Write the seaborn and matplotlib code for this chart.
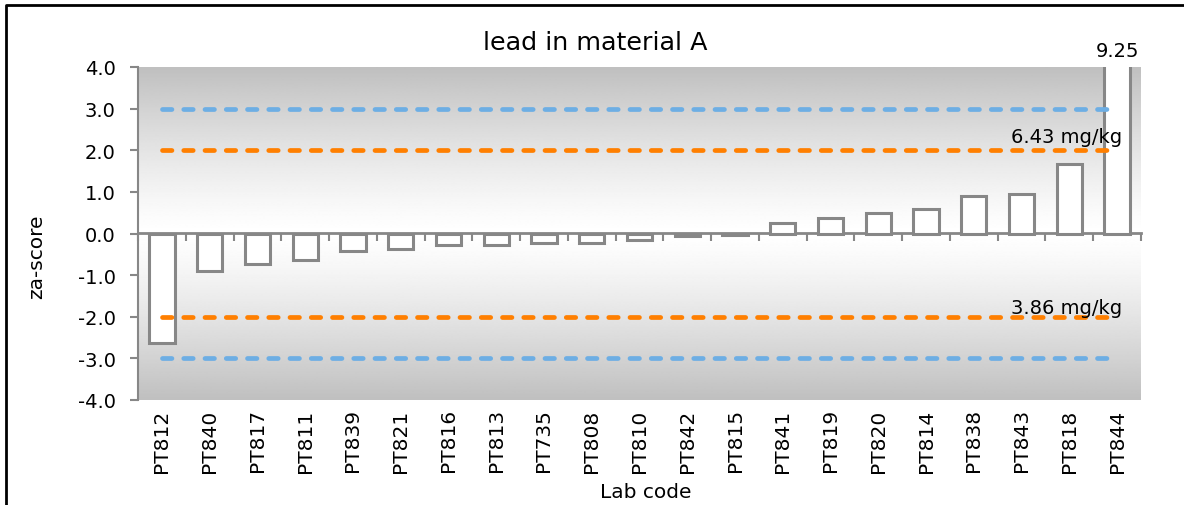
import numpy as np
import pandas as pd
import matplotlib
matplotlib.use('Agg')
import matplotlib.pyplot as plt
import seaborn as sns
from matplotlib.lines import Line2D

# ----- data -----
lab_codes = ['PT812', 'PT840', 'PT817', 'PT811', 'PT839', 'PT821', 'PT816',
             'PT813', 'PT735', 'PT808', 'PT810', 'PT842', 'PT815', 'PT841',
             'PT819', 'PT820', 'PT814', 'PT838', 'PT843', 'PT818', 'PT844']
za_scores = [-2.63, -0.89, -0.73, -0.64, -0.41, -0.38, -0.28,
             -0.28, -0.23, -0.23, -0.16, -0.07, -0.04, 0.25,
             0.37, 0.50, 0.60, 0.90, 0.94, 1.67, 9.25]
limit_action = [2, -2]      # orange
limit_warning = [3, -3]     # blue
upper_label = '6.43 mg/kg'
lower_label = '3.86 mg/kg'
y_ticks = [-4, -3, -2, -1, 0, 1, 2, 3, 4]

df = pd.DataFrame({'lab': lab_codes, 'za': za_scores})

sns.set_style('white')
plt.rcParams['font.family'] = ['DejaVu Sans']
plt.rcParams['text.color'] = 'black'
plt.rcParams['xtick.color'] = 'black'
plt.rcParams['ytick.color'] = 'black'

fig = plt.figure(figsize=(11.84, 5.06), dpi=100)
ax = fig.add_axes([138/1184, 1-401/506, (1141-138)/1184, (401-68)/506])

n = len(lab_codes)
ax.set_xlim(-0.5, n-0.5)
ax.set_ylim(-4, 4)

# background gradient (grey at top/bottom, white at zero)
yy = np.linspace(4, -4, 400)
shade = 1 - 0.25*(np.abs(yy)/4)**1.25
grad = np.repeat(shade[:, None], 2, axis=1)
ax.imshow(grad, cmap='gray', vmin=0, vmax=1, aspect='auto',
          extent=(-0.5, n-0.5, -4, 4), zorder=0, interpolation='bilinear')

sns.barplot(data=df, x='lab', y='za', color='white', edgecolor='#878787',
            linewidth=2.2, width=0.53, saturation=1, ax=ax, zorder=2)

for y in limit_warning:
    ax.hlines(y, 0, n-1, colors='#6DAEE4', linewidth=3.4, linestyles=(0, (2.0, 2.5)),
              capstyle='round', zorder=3)
for y in limit_action:
    ax.hlines(y, 0, n-1, colors='#FF7F00', linewidth=3.4, linestyles=(0, (2.0, 2.5)),
              capstyle='round', zorder=3)

ax.text(n-1, 4.18, f'{za_scores[-1]:.2f}', ha='center', va='bottom', fontsize=14, clip_on=False)
ax.text(n-0.9, 2.32, upper_label, ha='right', va='center', fontsize=14, zorder=4)
ax.text(n-0.9, -1.77, lower_label, ha='right', va='center', fontsize=14, zorder=4)

# axes styling
for s in ['top', 'right', 'bottom']:
    ax.spines[s].set_visible(False)
ax.spines['left'].set_color('#878787')
ax.spines['left'].set_linewidth(1.5)
ax.set_yticks(y_ticks)
ax.set_yticklabels([f'{v:.1f}' for v in y_ticks], fontsize=14)
ax.tick_params(axis='y', direction='out', length=6, width=1.5, color='#878787',
               labelcolor='black', pad=10, left=True)
ax.set_xticks(range(n))
ax.set_xticklabels(lab_codes, rotation=90, fontsize=14.5)
ax.tick_params(axis='x', length=0, pad=6, labelcolor='black')
ax.set_xlabel('')
ax.set_ylabel('')

# category axis drawn through zero
sec = ax.secondary_xaxis(0.5)
sec.set_xticks(np.arange(-0.5, n, 1))
sec.set_xticklabels([])
sec.tick_params(direction='in', length=6, width=1.5, color='#878787')
sec.spines['top'].set_color('#878787')
sec.spines['top'].set_linewidth(2)
sec.spines['bottom'].set_color('#878787')
sec.spines['bottom'].set_linewidth(2)

fig.text(595/1184, 1-43/506, 'lead in material A', ha='center', va='center', fontsize=18.3)
fig.text(646/1184, 1-493/506, 'Lab code', ha='center', va='center', fontsize=14.5)
fig.text(37/1184, 1-257/506, 'za-score', ha='center', va='center', rotation=90, fontsize=14.5)

# chart border
fig.add_artist(Line2D([6/1184, 6/1184, 1.01], [-0.01, 1-6/506, 1-6/506],
                      transform=fig.transFigure, color='black', linewidth=2))

fig.savefig('out.png', dpi=100)
